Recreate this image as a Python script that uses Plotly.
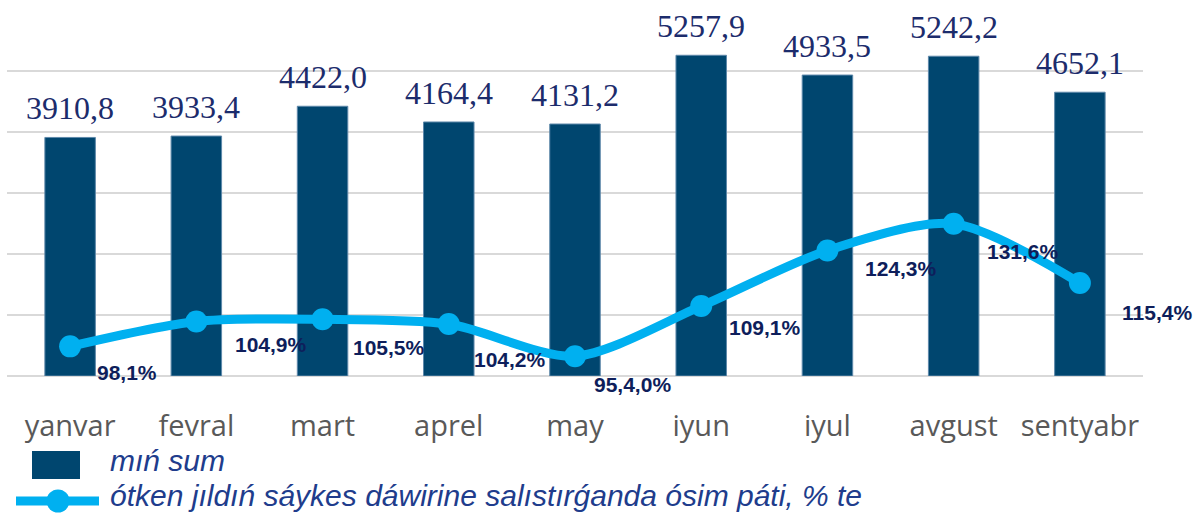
import plotly.graph_objects as go

# ---- data ----
months = ["yanvar", "fevral", "mart", "aprel", "may", "iyun", "iyul", "avgust", "sentyabr"]
volume = [3910.8, 3933.4, 4422.0, 4164.4, 4131.2, 5257.9, 4933.5, 5242.2, 4652.1]
growth = [98.1, 104.9, 105.5, 104.2, 95.4, 109.1, 124.3, 131.6, 115.4]
growth_labels = ["98,1%", "104,9%", "105,5%", "104,2%", "95,4,0%", "109,1%", "124,3%", "131,6%", "115,4%"]
series_names = ["mıń sum", "ótken jıldıń sáykes dáwirine salıstırǵanda ósim páti, % te"]

# ---- styling / label offsets (pixels) ----
BAR_COLOR = "#00466F"
LINE_COLOR = "#00B0F0"
pct_dx = [57, 75, 66, 61, 57, 64, 74, 69, 77]
pct_dy = [-26, -23, -28, -35, -28, -21, -18, -28, -29]

W, H = 1193, 515
ML, MR, MT, MB = 7, 50, 10, 139
PW, PH = W - ML - MR, H - MT - MB


def px(x):
    return (x - ML) / PW


def py(y):
    return (H - MB - y) / PH


fig = go.Figure()
fig.add_trace(go.Bar(
    x=months, y=volume, name=series_names[0],
    marker=dict(color=BAR_COLOR, line=dict(color="#5E88AA", width=1)),
    showlegend=False, yaxis="y",
))
fig.add_trace(go.Scatter(
    x=months, y=growth, name=series_names[1], yaxis="y2",
    mode="lines+markers",
    line=dict(color=LINE_COLOR, width=9, shape="spline", smoothing=0.8),
    marker=dict(color=LINE_COLOR, size=22),
    showlegend=False,
))

annotations = []
for m, v in zip(months, volume):
    annotations.append(dict(
        x=m, y=v, xref="x", yref="y", text=f"{v:.1f}".replace(".", ","),
        showarrow=False, yanchor="bottom", xanchor="center", yshift=9,
        font=dict(family="Liberation Serif, Times New Roman, serif", size=32, color="#1C2C6C"),
    ))
for m, g, lab, dx, dy in zip(months, growth, growth_labels, pct_dx, pct_dy):
    annotations.append(dict(
        x=m, y=g, xref="x", yref="y2", text=f"<b>{lab}</b>",
        showarrow=False, xanchor="center", yanchor="middle", xshift=dx, yshift=dy,
        font=dict(family="Liberation Sans, Arial, sans-serif", size=21, color="#0E1E5B"),
    ))

# custom legend
leg_font = dict(family="Liberation Sans, Arial, sans-serif", size=30, color="#203C8C")
annotations.append(dict(
    x=px(108), y=py(460), xref="paper", yref="paper", text=f"<i>{series_names[0]}</i>",
    showarrow=False, xanchor="left", yanchor="middle", font=leg_font,
))
annotations.append(dict(
    x=px(108), y=py(496), xref="paper", yref="paper", text=f"<i>{series_names[1]}</i>",
    showarrow=False, xanchor="left", yanchor="middle", font=leg_font,
))

shapes = [
    dict(type="rect", xref="paper", yref="paper", x0=px(32), x1=px(80), y0=py(479), y1=py(451),
         fillcolor=BAR_COLOR, line=dict(width=0), layer="above"),
    dict(type="line", xref="paper", yref="paper", x0=px(16), x1=px(99), y0=py(501), y1=py(501),
         line=dict(color=LINE_COLOR, width=9), layer="above"),
    dict(type="circle", xref="paper", yref="paper", x0=px(58 - 11.5), x1=px(58 + 11.5),
         y0=py(501 + 11.5), y1=py(501 - 11.5), fillcolor=LINE_COLOR, line=dict(width=0), layer="above"),
]

fig.update_layout(
    width=W, height=H,
    margin=dict(l=ML, r=MR, t=MT, b=MB),
    paper_bgcolor="white", plot_bgcolor="white",
    bargap=0.6,
    showlegend=False,
    annotations=annotations,
    shapes=shapes,
    xaxis=dict(
        range=[-0.5, len(months) - 0.5], autorange=False,
        tickfont=dict(family="Open Sans, sans-serif", size=29, color="#595959"),
        showline=False, ticks="", ticklabelstandoff=30, showgrid=False,
    ),
    yaxis=dict(
        range=[0, 6000], dtick=1000, showticklabels=False, showgrid=True,
        gridcolor="#D9D9D9", gridwidth=2, zeroline=True, zerolinecolor="#D9D9D9", zerolinewidth=2,
    ),
    yaxis2=dict(
        range=[90, 190], overlaying="y", side="right", showgrid=False, showticklabels=False,
        zeroline=False, visible=False,
    ),
)

fig.write_html(
    "out.html",
    config={"displayModeBar": False},
    post_script="document.body.style.margin='0';document.body.style.overflow='hidden';",
)
